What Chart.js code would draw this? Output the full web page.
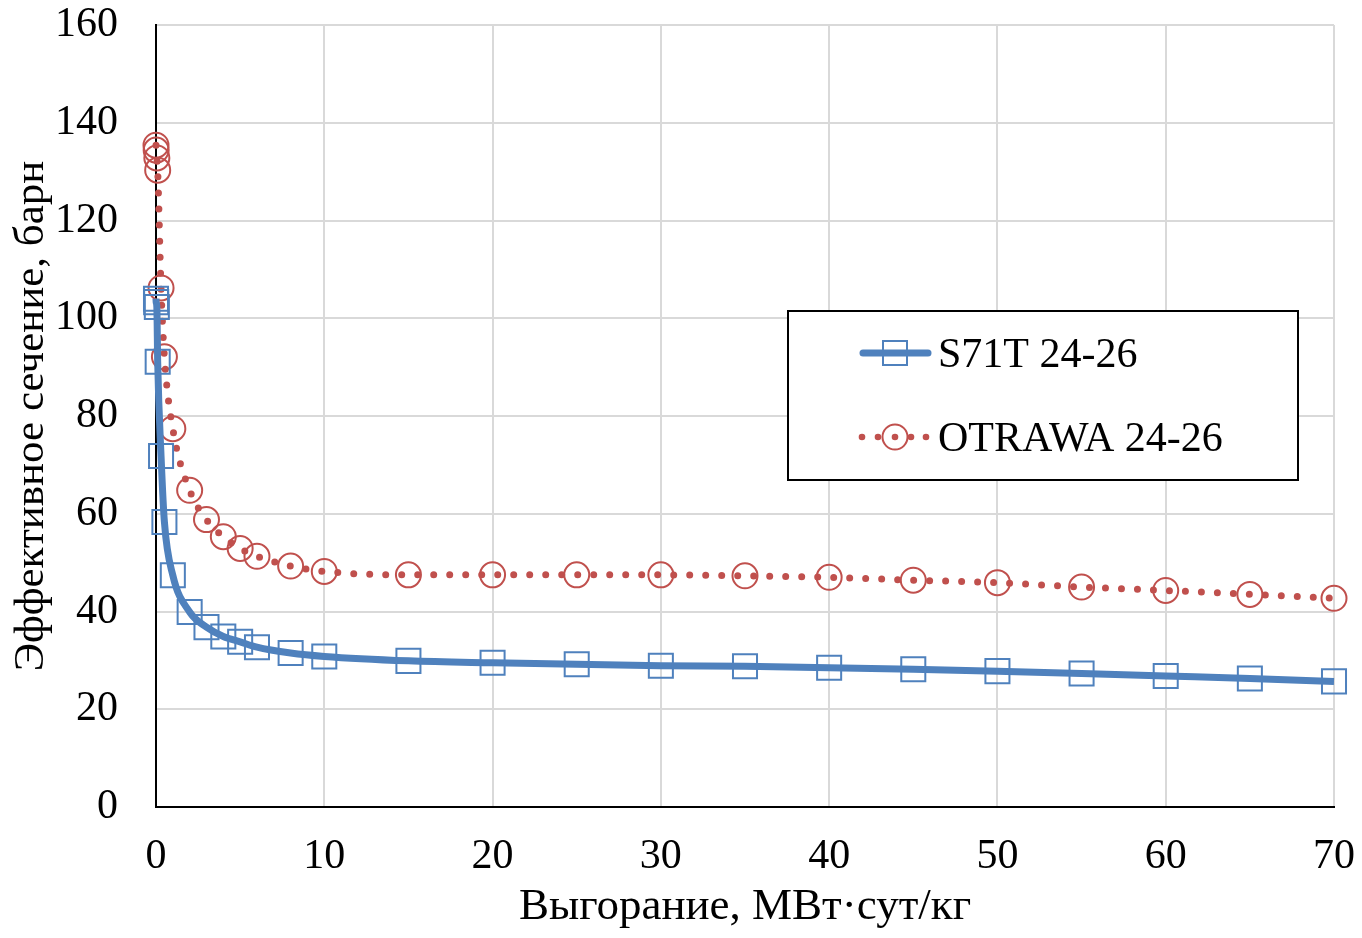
<!DOCTYPE html>
<html>
<head>
<meta charset="utf-8">
<script src="https://cdn.jsdelivr.net/npm/chart.js@4.4.1/dist/chart.umd.min.js"></script>
<style>
  html, body { margin: 0; padding: 0; background: #fff; }
  canvas { display: block; }
</style>
</head>
<body>
<canvas id="burnupChart" width="1362" height="938"></canvas>
<script>
// Burnup points, MW·day/kg
const burnup = [0, 0.01, 0.05, 0.1, 0.3, 0.5, 1, 2, 3, 4, 5, 6, 8, 10, 15, 20, 25, 30, 35, 40, 45, 50, 55, 60, 65, 70];
// Effective cross section, barn
const s71tValues = [104.0, 103.3, 102.3, 91.1, 71.8, 58.3, 47.4, 39.9, 36.8, 34.9, 33.8, 32.7, 31.5, 30.8, 29.9, 29.5, 29.2, 28.9, 28.8, 28.5, 28.2, 27.8, 27.3, 26.8, 26.3, 25.7];
const otrawaValues = [135.4, 134.4, 132.8, 130.3, 106.2, 92.1, 77.4, 64.8, 58.8, 55.3, 52.9, 51.3, 49.3, 48.2, 47.5, 47.5, 47.5, 47.5, 47.3, 47.0, 46.4, 45.9, 45.0, 44.3, 43.5, 42.7];
const seriesNames = ['S71T 24-26', 'OTRAWA 24-26'];
const xTitle = 'Выгорание, МВт·сут/кг';
const yTitle = 'Эффективное сечение, барн';

const BLUE = '#4F81BD';
const RED = '#C0504D';
const GRID = '#D9D9D9';
const FONT = "'Liberation Serif', 'Times New Roman', serif";

function toPoints(values) {
  return burnup.map((x, i) => ({ x: x, y: values[i] }));
}

// keep the plot area exactly where the layout padding puts it
function noScalePadding(scale) {
  scale.paddingTop = 0;
  scale.paddingBottom = 0;
  scale.paddingLeft = 0;
  scale.paddingRight = 0;
}

// Excel-style boxed legend inside the plot
const boxLegend = {
  id: 'boxLegend',
  afterDraw(chart) {
    const ctx = chart.ctx;
    ctx.save();
    ctx.fillStyle = '#fff';
    ctx.fillRect(788, 311, 510, 169);
    ctx.strokeStyle = '#000';
    ctx.lineWidth = 2;
    ctx.strokeRect(788, 311, 510, 169);

    // S71T sample
    ctx.strokeStyle = BLUE;
    ctx.lineWidth = 7;
    ctx.lineCap = 'round';
    ctx.beginPath();
    ctx.moveTo(863, 353);
    ctx.lineTo(928, 353);
    ctx.stroke();
    ctx.lineWidth = 2;
    ctx.strokeRect(883, 341, 24, 24);

    // OTRAWA sample
    ctx.fillStyle = RED;
    [862, 878, 895, 911, 926].forEach(x => {
      ctx.beginPath();
      ctx.arc(x, 437, 3.3, 0, Math.PI * 2);
      ctx.fill();
    });
    ctx.strokeStyle = RED;
    ctx.beginPath();
    ctx.arc(895, 437, 12.5, 0, Math.PI * 2);
    ctx.stroke();

    ctx.fillStyle = '#000';
    ctx.font = '42px ' + FONT;
    ctx.textBaseline = 'alphabetic';
    ctx.textAlign = 'left';
    ctx.fillText(seriesNames[0], 938, 367);
    ctx.fillText(seriesNames[1], 938, 451);
    ctx.restore();
  }
};

new Chart(document.getElementById('burnupChart'), {
  type: 'line',
  data: {
    datasets: [
      {
        label: seriesNames[0],
        data: toPoints(s71tValues),
        borderColor: BLUE,
        borderWidth: 7,
        cubicInterpolationMode: 'monotone',
        pointStyle: 'rect',
        pointRadius: 17,
        pointBorderWidth: 2,
        pointBorderColor: BLUE,
        pointBackgroundColor: 'rgba(0,0,0,0)',
        clip: false
      },
      {
        label: seriesNames[1],
        data: toPoints(otrawaValues),
        borderColor: RED,
        borderWidth: 7,
        borderDash: [0, 16],
        borderCapStyle: 'round',
        cubicInterpolationMode: 'monotone',
        pointStyle: 'circle',
        pointRadius: 12.5,
        pointBorderWidth: 2,
        pointBorderColor: RED,
        pointBackgroundColor: 'rgba(0,0,0,0)',
        clip: false
      }
    ]
  },
  options: {
    responsive: false,
    animation: false,
    layout: { padding: { top: 25, right: 28, left: 0, bottom: 0 } },
    plugins: {
      legend: { display: false },
      tooltip: { enabled: false }
    },
    scales: {
      x: {
        type: 'linear',
        min: 0,
        max: 70,
        ticks: { stepSize: 10, color: '#000', padding: 25, font: { family: FONT, size: 42 } },
        grid: { color: GRID, lineWidth: 2, drawTicks: false },
        border: { color: '#000', width: 2 },
        title: { display: true, text: xTitle, color: '#000', padding: { top: 0, bottom: 4 }, font: { family: FONT, size: 45 } },
        afterFit(scale) {
          scale.height = 131;
          noScalePadding(scale);
        }
      },
      y: {
        min: 0,
        max: 160,
        ticks: { stepSize: 20, color: '#000', padding: 38, font: { family: FONT, size: 42 } },
        grid: { color: GRID, lineWidth: 2, drawTicks: false },
        border: { color: '#000', width: 2 },
        title: { display: true, text: yTitle, color: '#000', padding: { top: 6, bottom: 0 }, font: { family: FONT, size: 43 } },
        afterFit(scale) {
          scale.width = 156;
          noScalePadding(scale);
        }
      }
    }
  },
  plugins: [boxLegend]
});
</script>
</body>
</html>
